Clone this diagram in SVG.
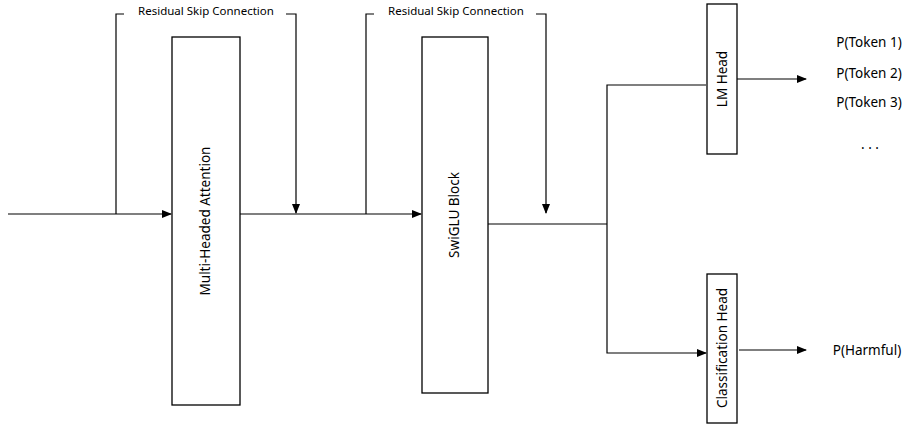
<svg xmlns="http://www.w3.org/2000/svg" width="918" height="425" viewBox="0 0 918 425">
<style>
.b{fill:#fff;stroke:#000;stroke-width:1.3}
.c{fill:none;stroke:#000;stroke-width:1.2}
text{font-family:"Comic Sans MS","Noto Sans","Liberation Sans",sans-serif;font-size:13.5px;fill:#000}
.s{font-size:11.5px}
</style>
<defs><marker id="a" markerWidth="10" markerHeight="8" refX="9" refY="4" orient="auto" markerUnits="userSpaceOnUse"><path d="M0,0L10,4L0,8z" fill="#000"/></marker></defs>
<rect width="918" height="425" fill="#fff"/>
<g id="connectors">
<path class="c" d="M8,214H171" marker-end="url(#a)"/>
<path class="c" d="M116,214V14H296V213" marker-end="url(#a)"/>
<path class="c" d="M240,214H421" marker-end="url(#a)"/>
<path class="c" d="M366,214V14H546V213" marker-end="url(#a)"/>
<path class="c" d="M488,224H607"/>
<path class="c" d="M706,85H607V353H706" marker-end="url(#a)"/>
<path class="c" d="M737,79H806" marker-end="url(#a)"/>
<path class="c" d="M739,350H806" marker-end="url(#a)"/>
</g>
<rect x="124" y="4" width="162" height="12" fill="#fff"/>
<text class="s" x="206" y="15" text-anchor="middle">Residual Skip Connection</text>
<rect x="374" y="4" width="162" height="12" fill="#fff"/>
<text class="s" x="456" y="15" text-anchor="middle">Residual Skip Connection</text>
<g id="mha"><rect class="b" x="172" y="37" width="68" height="368"/><text transform="translate(210,221) rotate(-90)" text-anchor="middle">Multi-Headed Attention</text></g>
<g id="swiglu"><rect class="b" x="422" y="37" width="66" height="356"/><text transform="translate(459,215) rotate(-90)" text-anchor="middle">SwiGLU Block</text></g>
<g id="lmhead"><rect class="b" x="707" y="4" width="30" height="150"/><text transform="translate(727,79) rotate(-90)" text-anchor="middle">LM Head</text></g>
<g id="clshead"><rect class="b" x="707" y="274" width="30" height="149"/><text transform="translate(727,348) rotate(-90)" text-anchor="middle">Classification Head</text></g>
<g id="outputs">
<text x="869" y="47" text-anchor="middle">P(Token 1)</text>
<text x="869" y="78" text-anchor="middle">P(Token 2)</text>
<text x="869" y="107" text-anchor="middle">P(Token 3)</text>
<text x="870" y="149" text-anchor="middle">. . .</text>
<text x="867" y="355" text-anchor="middle">P(Harmful)</text>
</g>
</svg>
